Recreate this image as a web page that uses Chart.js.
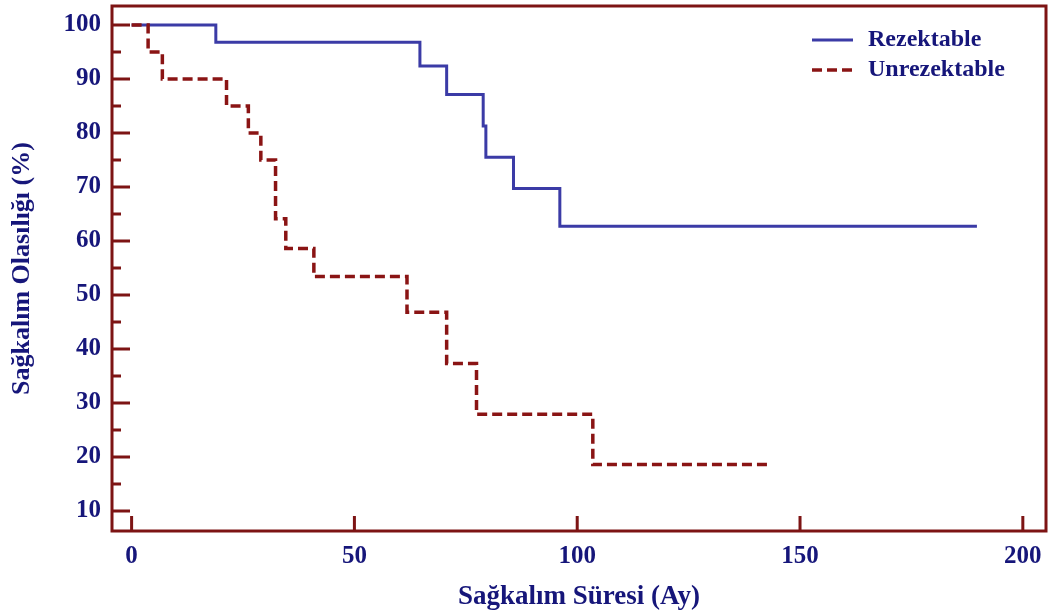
<!DOCTYPE html>
<html>
<head>
<meta charset="utf-8">
<script src="https://cdn.jsdelivr.net/npm/chart.js@4.4.1/dist/chart.umd.min.js"></script>
<style>
    body { margin: 0; background: #ffffff; }
    #wrap { width: 1052px; height: 614px; }
</style>
</head>
<body>
<div id="wrap"><canvas id="survivalChart" width="1052" height="614"></canvas></div>
<script>
// Kaplan-Meier steps (time in months, survival %)
const rezTimes = [0, 18.9, 64.7, 70.7, 78.9, 79.5, 85.7, 96.1, 189.7];
const rezSurvival = [100, 96.8, 92.4, 87.1, 81.3, 75.5, 69.7, 62.7, 62.7];

const unrezTimes = [0, 3.7, 6.9, 21.3, 26.2, 29.0, 32.3, 34.6, 40.9, 61.8, 70.7, 77.4, 103.5, 142.8];
const unrezSurvival = [100, 95, 90, 85, 80, 75, 64.1, 58.6, 53.4, 46.8, 37.3, 27.9, 18.6, 18.6];

const xTicks = [0, 50, 100, 150, 200];
const yTicks = [10, 20, 30, 40, 50, 60, 70, 80, 90, 100];
const yMinorTicks = [15, 25, 35, 45, 55, 65, 75, 85, 95];

const seriesLabels = ['Rezektable', 'Unrezektable'];

const frameColor = '#7d1414';
const textColor = '#16167a';
const blueColor = '#3b3ba6';
const redColor = '#8a1414';
const fontFamily = '"Liberation Serif", "Times New Roman", serif';

function toPoints(xs, ys) {
    return xs.map((x, i) => ({ x: x, y: ys[i] }));
}

// frame, inward ticks and legend
const framePlugin = {
    id: 'frame',
    afterDraw(chart) {
        const ctx = chart.ctx;
        const area = chart.chartArea;
        const xs = chart.scales.x;
        const ys = chart.scales.y;
        ctx.save();
        ctx.strokeStyle = frameColor;
        ctx.lineWidth = 3;
        ctx.strokeRect(area.left, area.top, area.right - area.left, area.bottom - area.top);

        ctx.beginPath();
        yTicks.forEach(v => {
            const py = ys.getPixelForValue(v);
            ctx.moveTo(area.left, py);
            ctx.lineTo(area.left + 18, py);
        });
        yMinorTicks.forEach(v => {
            const py = ys.getPixelForValue(v);
            ctx.moveTo(area.left, py);
            ctx.lineTo(area.left + 9, py);
        });
        xTicks.forEach(v => {
            const px = xs.getPixelForValue(v);
            ctx.moveTo(px, area.bottom);
            ctx.lineTo(px, area.bottom - 15);
        });
        ctx.stroke();

        // legend
        const lx = 812, lw = 41, tx = 868;
        const rows = [40, 70];
        chart.data.datasets.slice().reverse().forEach((ds, i) => {
            ctx.beginPath();
            ctx.strokeStyle = ds.borderColor;
            ctx.lineWidth = ds.borderWidth;
            ctx.setLineDash(ds.borderDash || []);
            ctx.moveTo(lx, rows[i]);
            ctx.lineTo(lx + lw, rows[i]);
            ctx.stroke();
            ctx.setLineDash([]);
            ctx.fillStyle = textColor;
            ctx.font = 'bold 24px ' + fontFamily;
            ctx.textBaseline = 'middle';
            ctx.textAlign = 'left';
            ctx.fillText(ds.label, tx, rows[i]);
        });
        ctx.restore();
    }
};

const survivalChart = new Chart(document.getElementById('survivalChart').getContext('2d'), {
    type: 'line',
    data: {
        datasets: [
            {
                label: seriesLabels[1],
                data: toPoints(unrezTimes, unrezSurvival),
                borderColor: redColor,
                borderWidth: 3.5,
                borderDash: [10, 5],
                stepped: 'before',
                pointRadius: 0,
                fill: false,
                order: 1
            },
            {
                label: seriesLabels[0],
                data: toPoints(rezTimes, rezSurvival),
                borderColor: blueColor,
                borderWidth: 3,
                stepped: 'before',
                pointRadius: 0,
                fill: false,
                order: 2
            }
        ]
    },
    options: {
        responsive: false,
        animation: false,
        layout: { padding: { top: 6, right: 6, left: 0, bottom: 0 } },
        plugins: {
            legend: { display: false },
            tooltip: { enabled: false }
        },
        scales: {
            x: {
                type: 'linear',
                min: -4.4,
                max: 205.2,
                afterBuildTicks: (scale) => { scale.ticks = xTicks.map(v => ({ value: v })); },
                afterFit: (scale) => {
                    scale.height = 83;
                    scale.paddingLeft = 0;
                    scale.paddingRight = 0;
                },
                grid: { display: false, drawTicks: false },
                border: { display: false },
                ticks: {
                    color: textColor,
                    padding: 11,
                    maxRotation: 0,
                    font: { family: fontFamily, size: 25, weight: 'bold' }
                },
                title: {
                    display: true,
                    text: 'Sağkalım Süresi (Ay)',
                    color: textColor,
                    padding: { top: 0, bottom: 1 },
                    font: { family: fontFamily, size: 27, weight: 'bold' }
                }
            },
            y: {
                type: 'linear',
                min: 6.3,
                max: 103.5,
                afterBuildTicks: (scale) => { scale.ticks = yTicks.map(v => ({ value: v })); },
                afterFit: (scale) => {
                    scale.width = 112;
                    scale.paddingTop = 0;
                    scale.paddingBottom = 0;
                },
                grid: { display: false, drawTicks: false },
                border: { display: false },
                ticks: {
                    color: textColor,
                    padding: 11,
                    font: { family: fontFamily, size: 25, weight: 'bold' }
                },
                title: {
                    display: true,
                    text: 'Sağkalım Olasılığı (%)',
                    color: textColor,
                    padding: { top: 7, bottom: 0 },
                    font: { family: fontFamily, size: 26, weight: 'bold' }
                }
            }
        }
    },
    plugins: [framePlugin]
});
</script>
</body>
</html>
